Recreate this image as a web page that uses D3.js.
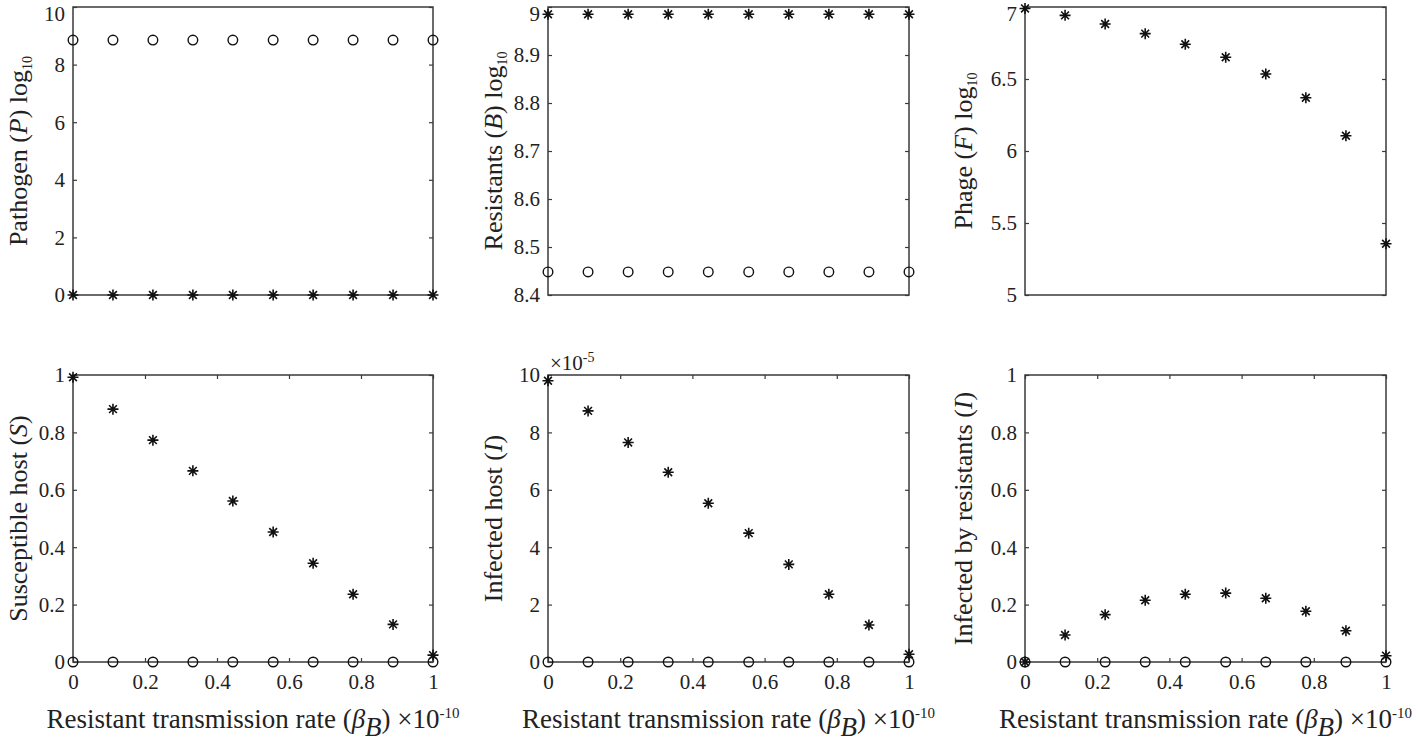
<!DOCTYPE html>
<html>
<head>
<meta charset="utf-8">
<script src="https://cdn.jsdelivr.net/npm/d3@7"></script>
<style>
  body { margin: 0; background: #fff; }
  svg text { font-family: "Liberation Serif", "Times New Roman", Tinos, "DejaVu Serif", serif !important; fill: #222; }
</style>
</head>
<body>
<div class="chart"></div>
<script>
const xVals = [0, 0.111, 0.222, 0.333, 0.444, 0.556, 0.667, 0.778, 0.889, 1];
const xTicks = [0, 0.2, 0.4, 0.6, 0.8, 1];

const pathogenCircle = [8.85, 8.85, 8.85, 8.85, 8.85, 8.85, 8.85, 8.85, 8.85, 8.85];
const pathogenStar = [0, 0, 0, 0, 0, 0, 0, 0, 0, 0];
const resistCircle = [8.448, 8.448, 8.448, 8.448, 8.448, 8.448, 8.448, 8.448, 8.448, 8.448];
const resistStar = [8.985, 8.985, 8.985, 8.985, 8.985, 8.985, 8.985, 8.985, 8.985, 8.985];
const phageStar = [6.99, 6.942, 6.882, 6.815, 6.741, 6.651, 6.535, 6.37, 6.106, 5.356];
const suscCircle = [0, 0, 0, 0, 0, 0, 0, 0, 0, 0];
const suscStar = [0.992, 0.881, 0.773, 0.666, 0.561, 0.453, 0.344, 0.236, 0.131, 0.024];
const infCircle = [0, 0, 0, 0, 0, 0, 0, 0, 0, 0];
const infStar = [9.8, 8.75, 7.65, 6.61, 5.53, 4.49, 3.4, 2.36, 1.29, 0.27]; // x1e-5
const infResCircle = [0, 0, 0, 0, 0, 0, 0, 0, 0, 0];
const infResStar = [0, 0.094, 0.165, 0.215, 0.236, 0.24, 0.222, 0.177, 0.109, 0.022];

const panels = [
  {col: 0, row: 0, yDomain: [0, 10], yTicks: [0, 2, 4, 6, 8, 10], circles: pathogenCircle, stars: pathogenStar,
   label: ["Pathogen (", {i: "P"}, ") log", {sub: "10"}]},
  {col: 1, row: 0, yDomain: [8.4, 9], yTicks: [8.4, 8.5, 8.6, 8.7, 8.8, 8.9, 9], circles: resistCircle, stars: resistStar,
   label: ["Resistants (", {i: "B"}, ") log", {sub: "10"}]},
  {col: 2, row: 0, yDomain: [5, 7], yTicks: [5, 5.5, 6, 6.5, 7], circles: null, stars: phageStar,
   label: ["Phage (", {i: "F"}, ") log", {sub: "10"}]},
  {col: 0, row: 1, yDomain: [0, 1], yTicks: [0, 0.2, 0.4, 0.6, 0.8, 1], circles: suscCircle, stars: suscStar,
   label: ["Susceptible host (", {i: "S"}, ")"]},
  {col: 1, row: 1, yDomain: [0, 10], yTicks: [0, 2, 4, 6, 8, 10], circles: infCircle, stars: infStar,
   label: ["Infected host (", {i: "I"}, ")"], expo: "-5"},
  {col: 2, row: 1, yDomain: [0, 1], yTicks: [0, 0.2, 0.4, 0.6, 0.8, 1], circles: infResCircle, stars: infResStar,
   label: ["Infected by resistants (", {i: "I"}, ")"]}
];

const colX = [[73, 433], [548, 909], [1025, 1386]];
const rowY = [[7, 295], [375, 662]];
const labelX = [27, 502, 972];
const boxColor = "#3a3a3a";

const svg = d3.select("div.chart").append("svg")
    .attr("width", 1418)
    .attr("height", 742);

// 8-armed asterisk like matlab's '*'
function starPath(r) {
  const d = r * 0.7071;
  return `M${-r},0L${r},0M0,${-r}L0,${r}M${-d},${-d}L${d},${d}M${-d},${d}L${d},${-d}`;
}

function addRich(text, parts) {
  parts.forEach(p => {
    if (typeof p === "string") text.append("tspan").text(p);
    else if (p.i) text.append("tspan").style("font-style", "italic").text(p.i);
    else if (p.sub) {
      text.append("tspan").attr("dy", 5).style("font-size", "14px").text(p.sub);
    }
  });
}

panels.forEach(p => {
  const [x0, x1] = colX[p.col];
  const [y0, y1] = rowY[p.row];
  const x = d3.scaleLinear().domain([0, 1]).range([x0, x1]);
  const y = d3.scaleLinear().domain(p.yDomain).range([y1, y0]);
  const g = svg.append("g");

  // y ticks, left with labels, right without
  const left = g.append("g").attr("transform", `translate(${x0},0)`)
      .call(d3.axisLeft(y).tickValues(p.yTicks).tickSizeInner(-4).tickSizeOuter(0).tickPadding(8)
        .tickFormat(d => d3.format("~g")(d)));
  const right = g.append("g").attr("transform", `translate(${x1},0)`)
      .call(d3.axisRight(y).tickValues(p.yTicks).tickSizeInner(-4).tickSizeOuter(0).tickFormat(""));

  const axes = [left, right];
  if (p.row === 1) {
    const bottom = g.append("g").attr("transform", `translate(0,${y1})`)
        .call(d3.axisBottom(x).tickValues(xTicks).tickSizeInner(-4).tickSizeOuter(0).tickPadding(12)
          .tickFormat(d => d3.format("~g")(d)));
    const top = g.append("g").attr("transform", `translate(0,${y0})`)
        .call(d3.axisTop(x).tickValues(xTicks).tickSizeInner(-4).tickSizeOuter(0).tickFormat(""));
    axes.push(bottom, top);
  }
  axes.forEach(a => {
    a.attr("font-family", null);
    a.select(".domain").remove();
    a.selectAll("line").attr("stroke", boxColor).attr("stroke-width", 1.2);
    a.selectAll("text").style("font-size", "21px").attr("fill", "#222");
  });
  // keep the top tick label inside the picture
  left.selectAll("text").attr("dy", d => y(d) < 15 ? "0.62em" : "0.33em");

  g.append("rect")
      .attr("x", x0).attr("y", y0)
      .attr("width", x1 - x0).attr("height", y1 - y0)
      .attr("fill", "none").attr("stroke", boxColor).attr("stroke-width", 1.5);

  // y label
  const yl = g.append("text")
      .attr("transform", `translate(${labelX[p.col]},${(y0 + y1) / 2}) rotate(-90)`)
      .attr("text-anchor", "middle")
      .style("font-size", "26px");
  addRich(yl, p.label);

  if (p.expo) {
    const ex = g.append("text").attr("x", x0 + 2).attr("y", y0 - 5).style("font-size", "21px");
    ex.append("tspan").text("\u00d710");
    ex.append("tspan").attr("dy", -8).style("font-size", "14px").text(p.expo);
  }

  if (p.row === 1) {
    const xl = g.append("text")
        .attr("x", (x0 + x1) / 2).attr("y", 728)
        .attr("text-anchor", "middle")
        .style("font-size", "27px");
    xl.append("tspan").text("Resistant transmission rate (");
    xl.append("tspan").style("font-style", "italic").text("\u03b2");
    xl.append("tspan").attr("dy", 8).style("font-style", "italic").text("B");
    xl.append("tspan").attr("dy", -8).text(") \u00d710");
    xl.append("tspan").attr("dy", -10).style("font-size", "15px").text("-10");
  }

  if (p.circles) {
    g.selectAll(".circ")
      .data(p.circles.map((v, i) => [xVals[i], v]))
      .enter().append("circle")
      .attr("cx", d => x(d[0]))
      .attr("cy", d => y(d[1]))
      .attr("r", 4.8)
      .attr("fill", "none")
      .attr("stroke", "#111")
      .attr("stroke-width", 1.4);
  }
  g.selectAll(".star")
    .data(p.stars.map((v, i) => [xVals[i], v]))
    .enter().append("path")
    .attr("d", starPath(5.5))
    .attr("transform", d => `translate(${x(d[0])},${y(d[1])})`)
    .attr("fill", "none")
    .attr("stroke", "#111")
    .attr("stroke-width", 1.6);
});
</script>
</body>
</html>
